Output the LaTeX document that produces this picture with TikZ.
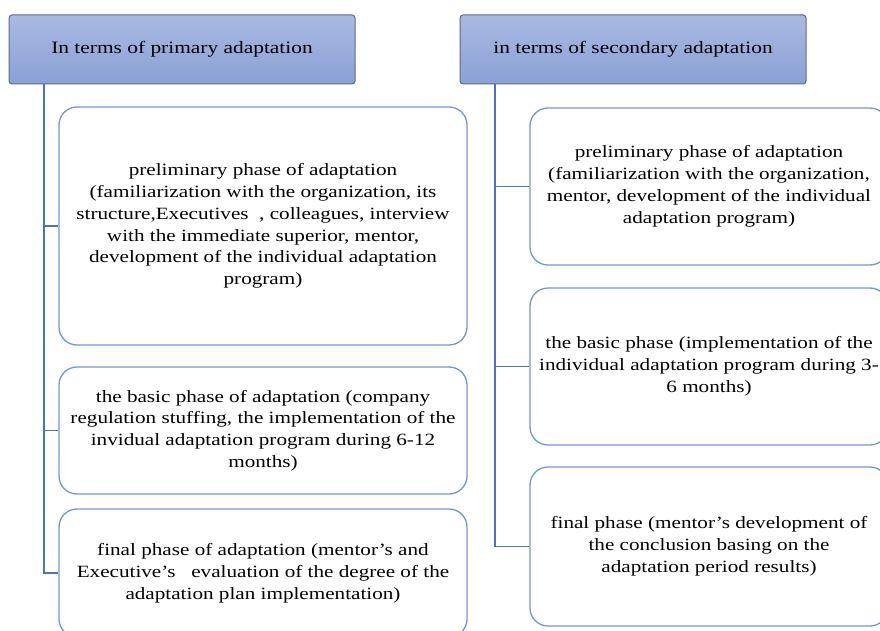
\documentclass[tikz,border=0pt]{standalone}
\usepackage{fontspec}
\setmainfont{Liberation Serif}[FakeStretch=1.23]
\usepackage{xcolor}
\definecolor{headtop}{HTML}{A9B9E2}
\definecolor{headbot}{HTML}{8AA1D6}
\definecolor{headline}{HTML}{5C6B8C}
\definecolor{boxline}{HTML}{6F98D8}
\definecolor{linkcol}{HTML}{4A72BE}
\tikzset{
  headbox/.style={draw=headline, line width=1pt, rounded corners=3pt, top color=headtop, bottom color=headbot,
    minimum width=346pt, minimum height=69pt, font=\fontsize{17.4}{21}\selectfont},
  phasebox/.style={draw=boxline, line width=1.3pt, rounded corners=18pt, fill=white, align=center,
    font=\fontsize{17.2}{21.8}\selectfont, inner sep=0pt},
  link/.style={draw=linkcol, line width=1.5pt}
}
\begin{document}
\begin{tikzpicture}[x=1pt, y=-1pt]
	\clip (0,0) rectangle (880,631);
	\fill[white] (0,0) rectangle (880,631);
	% headers
	\node[headbox] (headL) at (182,49.5) {In terms of primary adaptation};
	\node[headbox] (headR) at (633,49.5) {in terms of secondary adaptation};
	% primary adaptation phases
	\node[phasebox, minimum width=408pt, minimum height=238pt] (pL1) at (263,226) {preliminary phase of adaptation\\(familiarization with the organization, its\\structure,Executives~~, colleagues, interview\\with the immediate superior, mentor,\\development of the individual adaptation\\program)};
	\node[phasebox, minimum width=408pt, minimum height=127pt] (pL2) at (263,430.5) {the basic phase of adaptation (company\\regulation stuffing, the implementation of the\\invidual adaptation program during 6-12\\months)};
	\node[phasebox, minimum width=408pt, minimum height=128pt] (pL3) at (263,573) {final phase of adaptation (mentor's and\\Executive's~~ evaluation of the degree of the\\adaptation plan implementation)};
	% secondary adaptation phases
	\node[phasebox, minimum width=358pt, minimum height=157pt] (pR1) at (709,186.5) {preliminary phase of adaptation\\(familiarization with the organization,\\mentor, development of the individual\\adaptation program)};
	\node[phasebox, minimum width=358pt, minimum height=157pt] (pR2) at (709,366.5) {the basic phase (implementation of the\\individual adaptation program during 3-\\6 months)};
	\node[phasebox, minimum width=358pt, minimum height=159pt] (pR3) at (709,546.5) {final phase (mentor's development of\\the conclusion basing on the\\adaptation period results)};
	% trunks
	\coordinate (trunkL) at (44,84);
	\coordinate (trunkR) at (495,84);
	\draw[link] (trunkL |- headL.south) |- (pL3.west);
	\draw[link] (trunkL |- pL1.west) -- (pL1.west);
	\draw[link] (trunkL |- pL2.west) -- (pL2.west);
	\draw[link] (trunkR |- headR.south) |- (pR3.west);
	\draw[link] (trunkR |- pR1.west) -- (pR1.west);
	\draw[link] (trunkR |- pR2.west) -- (pR2.west);
\end{tikzpicture}
\end{document}
